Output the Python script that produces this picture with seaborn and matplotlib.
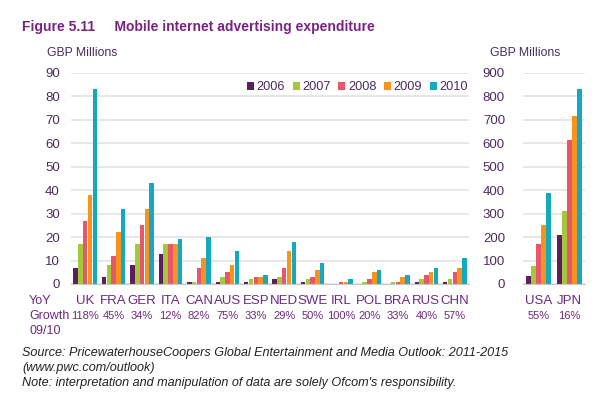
import matplotlib
matplotlib.use('Agg')
import matplotlib.pyplot as plt
import seaborn as sns
import pandas as pd

# values (GBP millions)
years = ['2006', '2007', '2008', '2009', '2010']
countries = ['UK', 'FRA', 'GER', 'ITA', 'CAN', 'AUS', 'ESP', 'NED', 'SWE',
             'IRL', 'POL', 'BRA', 'RUS', 'CHN']
growth = ['118%', '45%', '34%', '12%', '82%', '75%', '33%', '29%', '50%',
          '100%', '20%', '33%', '40%', '57%']
spend_2006 = [7, 3, 8, 13, 1, 1, 1, 2, 1, 0, 0, 0, 1, 1]
spend_2007 = [17, 8, 17, 17, 1, 3, 2, 3, 2, 0, 1, 1, 2, 2]
spend_2008 = [27, 12, 25, 17, 7, 5, 3, 7, 3, 1, 2, 1, 4, 5]
spend_2009 = [38, 22, 32, 17, 11, 8, 3, 14, 6, 1, 5, 3, 5, 7]
spend_2010 = [83, 32, 43, 19, 20, 14, 4, 18, 9, 2, 6, 4, 7, 11]

big_countries = ['USA', 'JPN']
big_growth = ['55%', '16%']
big_2006 = [35, 210]
big_2007 = [75, 310]
big_2008 = [170, 615]
big_2009 = [250, 715]
big_2010 = [390, 830]

palette = ['#5a1f5c', '#a3c83a', '#e8566c', '#f7941e', '#15a8bf']
purple = '#6b2a7e'
tick_col = '#4a2c5c'


def to_long(names, series):
    rows = []
    for yr, vals in zip(years, series):
        for c, v in zip(names, vals):
            rows.append({'country': c, 'year': yr, 'value': v})
    return pd.DataFrame(rows)


small = to_long(countries, [spend_2006, spend_2007, spend_2008, spend_2009, spend_2010])
big = to_long(big_countries, [big_2006, big_2007, big_2008, big_2009, big_2010])

sns.set_style('white')
plt.rcParams['font.family'] = ['Liberation Sans', 'DejaVu Sans']

fig = plt.figure(figsize=(6, 3.96), dpi=100)
ax = fig.add_axes([71 / 600, 112 / 396, 398 / 600, 211 / 396])
ax2 = fig.add_axes([523 / 600, 112 / 396, 62 / 600, 211 / 396])


def style_axes(a, top, step, names, grow, ypad):
    a.set_ylim(0, top)
    a.set_yticks(range(0, top + 1, step))
    a.grid(axis='y', color='#e3e3e3', lw=1.2)
    a.set_axisbelow(True)
    for s in ['left', 'right', 'top']:
        a.spines[s].set_visible(False)
    a.spines['bottom'].set_color('#c8c8c8')
    a.set_xlim(-0.5, len(names) - 0.5)
    a.set_xticks(range(len(names)))
    a.set_xticklabels(names, color=purple, fontsize=9.5)
    a.set_xticks([i - 0.5 for i in range(len(names) + 1)], minor=True)
    a.tick_params(axis='x', which='major', length=0, pad=8)
    a.tick_params(axis='x', which='minor', length=4, color='#c8c8c8')
    a.tick_params(axis='y', length=0, labelsize=9.5, labelcolor=tick_col, pad=ypad)
    a.set_xlabel('')
    a.set_ylabel('')
    for i, g in enumerate(grow):
        a.text(i, -0.15, g, transform=a.get_xaxis_transform(), ha='center',
               va='center', fontsize=8, color=purple)


sns.barplot(data=small, x='country', y='value', hue='year', palette=palette,
            width=0.84, gap=0.06, saturation=1, linewidth=0, ax=ax)
sns.barplot(data=big, x='country', y='value', hue='year', palette=palette,
            width=0.84, gap=0.06, saturation=1, linewidth=0, ax=ax2, legend=False)

style_axes(ax, 90, 10, countries, growth, 8)
style_axes(ax2, 900, 100, big_countries, big_growth, 13)

handles, labels = ax.get_legend_handles_labels()
ax.legend(handles, labels, ncol=5, loc='upper right', bbox_to_anchor=(1.01, 0.985),
          frameon=False, fontsize=9.2, handlelength=0.55, handleheight=0.55,
          handletextpad=0.2, columnspacing=0.6, labelcolor=tick_col,
          borderaxespad=0)

fig.text(22 / 600, 1 - 27 / 396, 'Figure 5.11     Mobile internet advertising expenditure',
         fontsize=10, fontweight='bold', color='#7a2383', va='center')
fig.text(47 / 600, 1 - 53 / 396, 'GBP Millions', fontsize=8.8, color=tick_col, va='center')
fig.text(490 / 600, 1 - 53 / 396, 'GBP Millions', fontsize=8.8, color=tick_col, va='center')

for j, t in enumerate(['YoY', 'Growth', '09/10']):
    fig.text(29 / 600, 1 - (301 + 15 * j) / 396, t, fontsize=9, color=purple, va='center')

notes = ['Source: PricewaterhouseCoopers Global Entertainment and Media Outlook: 2011-2015',
         '(www.pwc.com/outlook)',
         'Note: interpretation and manipulation of data are solely Ofcom\'s responsibility.']
for j, t in enumerate(notes):
    fig.text(22 / 600, 1 - (353 + 15 * j) / 396, t, fontsize=9.1, style='italic',
             color='#222222', va='center')

fig.savefig('out.png', dpi=100)
